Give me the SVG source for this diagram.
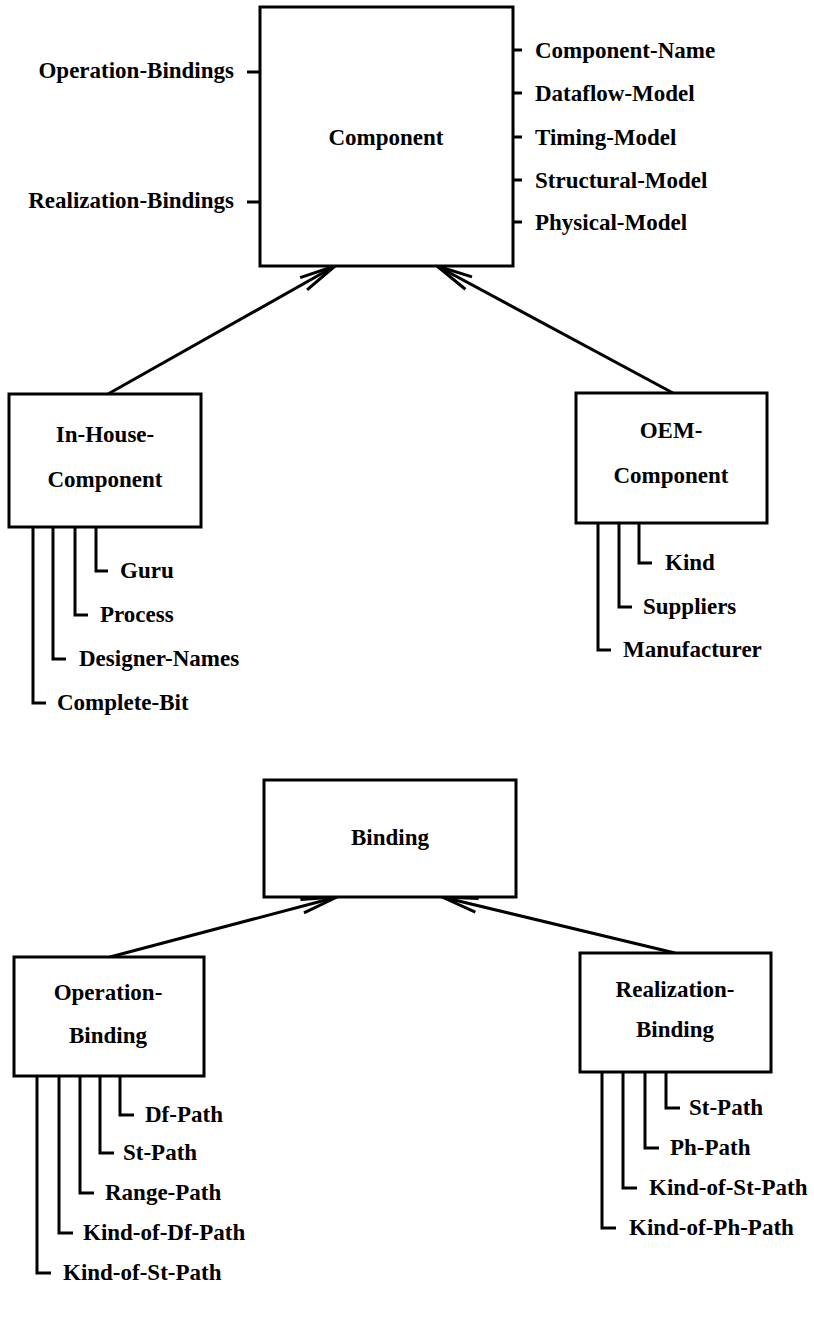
<svg xmlns="http://www.w3.org/2000/svg" width="814" height="1330" viewBox="0 0 814 1330">
  <defs>
    <style>
      .box { fill: #fff; stroke: #000; stroke-width: 3; }
      .lead { fill: none; stroke: #000; stroke-width: 3; stroke-linecap: butt; stroke-linejoin: miter; }
      .edge { fill: none; stroke: #000; stroke-width: 3; marker-end: url(#open); }
      text { font-family: "Liberation Serif", "Times New Roman", serif; font-weight: bold; font-size: 23px; fill: #000; }
      .mid { text-anchor: middle; }
      .end { text-anchor: end; }
    </style>
    <!-- narrow open arrowhead used on the generalisation links -->
    <marker id="open" viewBox="-40 -10 44 20" refX="0" refY="0" markerWidth="44" markerHeight="20" markerUnits="userSpaceOnUse" orient="auto" overflow="visible">
      <path d="M -36,-7 L 0,0 L -36,7" fill="none" stroke="#000" stroke-width="3" stroke-linejoin="miter"/>
    </marker>
  </defs>
  <rect width="814" height="1330" fill="#fff"/>

  <!-- links from subclasses to their superclass -->
  <g id="connectors">
    <line class="edge" x1="108" y1="394" x2="335" y2="266"/>
    <line class="edge" x1="673" y1="393" x2="437" y2="266"/>
    <line class="edge" x1="110" y1="957" x2="337" y2="897"/>
    <line class="edge" x1="675" y1="953" x2="442" y2="897"/>
  </g>

  <!-- Component with its slots -->
  <g id="component">
    <rect class="box" x="260" y="7" width="253" height="259"/>
    <text class="mid" x="386" y="145">Component</text>
    <path class="lead" d="M513,50 H522 M513,93 H522 M513,137 H522 M513,180 H522 M513,222 H522"/>
    <text x="535" y="58">Component-Name</text>
    <text x="535" y="101">Dataflow-Model</text>
    <text x="535" y="145">Timing-Model</text>
    <text x="535" y="188">Structural-Model</text>
    <text x="535" y="230">Physical-Model</text>
    <path class="lead" d="M247,72 H260 M247,202 H260"/>
    <text class="end" x="234" y="78">Operation-Bindings</text>
    <text class="end" x="234" y="208">Realization-Bindings</text>
  </g>

  <g id="in-house-component">
    <rect class="box" x="9" y="394" width="192" height="133"/>
    <text class="mid" x="105" y="442">In-House-</text>
    <text class="mid" x="105" y="487">Component</text>
    <path class="lead" d="M96,527 V571 H108 M75,527 V615 H88 M53,527 V659 H66 M33,527 V703 H46"/>
    <text x="120" y="578">Guru</text>
    <text x="100" y="622">Process</text>
    <text x="79" y="666">Designer-Names</text>
    <text x="57" y="710">Complete-Bit</text>
  </g>

  <g id="oem-component">
    <rect class="box" x="576" y="393" width="191" height="130"/>
    <text class="mid" x="671" y="438">OEM-</text>
    <text class="mid" x="671" y="483">Component</text>
    <path class="lead" d="M639,523 V563 H652 M619,523 V607 H632 M598,523 V650 H611"/>
    <text x="665" y="570">Kind</text>
    <text x="643" y="614">Suppliers</text>
    <text x="623" y="657">Manufacturer</text>
  </g>

  <g id="binding">
    <rect class="box" x="264" y="780" width="252" height="117"/>
    <text class="mid" x="390" y="845">Binding</text>
  </g>

  <g id="operation-binding">
    <rect class="box" x="14" y="957" width="190" height="119"/>
    <text class="mid" x="108" y="1000">Operation-</text>
    <text class="mid" x="108" y="1043">Binding</text>
    <path class="lead" d="M120,1076 V1115 H134 M100,1076 V1153 H114 M80,1076 V1193 H94 M59,1076 V1233 H73 M37,1076 V1273 H51"/>
    <text x="145" y="1122">Df-Path</text>
    <text x="123" y="1160">St-Path</text>
    <text x="105" y="1200">Range-Path</text>
    <text x="83" y="1240">Kind-of-Df-Path</text>
    <text x="63" y="1280">Kind-of-St-Path</text>
  </g>

  <g id="realization-binding">
    <rect class="box" x="580" y="953" width="191" height="119"/>
    <text class="mid" x="675" y="997">Realization-</text>
    <text class="mid" x="675" y="1037">Binding</text>
    <path class="lead" d="M666,1072 V1108 H680 M645,1072 V1148 H659 M623,1072 V1188 H637 M602,1072 V1228 H616"/>
    <text x="689" y="1115">St-Path</text>
    <text x="670" y="1155">Ph-Path</text>
    <text x="649" y="1195">Kind-of-St-Path</text>
    <text x="629" y="1235">Kind-of-Ph-Path</text>
  </g>
</svg>
